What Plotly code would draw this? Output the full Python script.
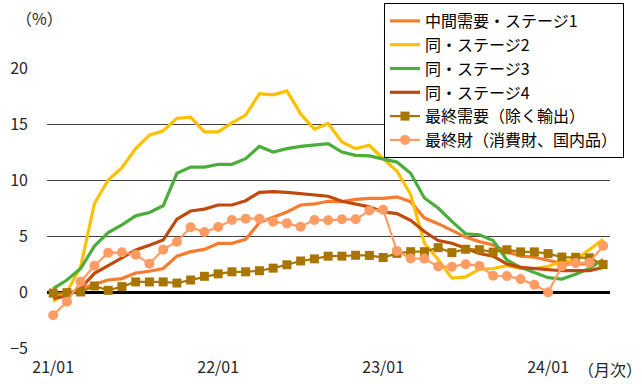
import plotly.graph_objects as go

months = list(range(41))  # 21/01 .. 24/05
tick_pos = [0, 12, 24, 36]
tick_text = ["21/01", "22/01", "23/01", "24/01"]

stage1 = [-0.4, -0.2, 0.3, 0.7, 1.07, 1.2, 1.7, 1.85, 2.1, 3.2, 3.6,
          3.8, 4.35, 4.35, 4.7, 6.2, 6.65, 7.15, 7.77, 7.86, 8.1,
          8.07, 8.27, 8.36, 8.36, 8.5, 8.07, 6.6, 6.1, 5.5, 4.9,
          4.5, 4.2, 3.6, 3.2, 3.1, 2.8, 2.56, 2.5, 2.5, 2.7]
stage2 = [-0.85, 0.0, 2.26, 7.9, 10.0, 11.1, 12.8, 14.0, 14.4, 15.5, 15.6,
          14.3, 14.3, 15.1, 15.8, 17.7, 17.6, 17.95, 15.9, 14.55, 15.05,
          13.4, 12.8, 13.1, 11.9, 10.8, 8.7, 4.35, 2.9, 1.24, 1.35,
          2.05, 2.1, 2.35, 2.1, 2.1, 2.3, 2.7, 2.86, 3.75, 4.7]
stage3 = [0.3, 1.07, 2.1, 4.1, 5.3, 6.0, 6.8, 7.1, 7.7, 10.6, 11.15,
          11.15, 11.4, 11.4, 11.9, 13.0, 12.5, 12.8, 13.0, 13.1, 13.25,
          12.5, 12.2, 12.15, 11.85, 11.6, 10.6, 8.4, 7.5, 6.3, 5.2,
          5.1, 4.6, 2.86, 2.2, 1.73, 1.28, 1.16, 1.58, 2.1, 2.9]
stage4 = [-0.57, -0.36, 0.33, 1.67, 2.35, 3.07, 3.75, 4.17, 4.64, 6.5, 7.23,
          7.4, 7.77, 7.77, 8.15, 8.9, 8.96, 8.9, 8.8, 8.7, 8.55,
          8.1, 7.85, 7.6, 7.15, 7.0, 6.4, 5.4, 4.6, 4.35, 3.9,
          3.45, 3.2, 2.5, 2.2, 2.1, 2.0, 1.9, 1.9, 1.9, 2.2]
final_demand = [-0.1, -0.06, 0.0, 0.54, 0.15, 0.48, 0.9, 0.9, 0.9, 0.8, 1.07,
                1.4, 1.62, 1.8, 1.8, 1.9, 2.13, 2.43, 2.77, 2.96, 3.2,
                3.2, 3.28, 3.27, 3.08, 3.45, 3.6, 3.6, 3.96, 3.52, 3.82,
                3.78, 3.56, 3.77, 3.58, 3.58, 3.43, 3.12, 3.1, 3.05, 2.45]
final_goods = [-2.08, -0.86, 0.92, 2.35, 3.5, 3.54, 3.33, 2.53, 3.78, 4.49, 5.78,
               5.35, 5.8, 6.43, 6.55, 6.55, 6.28, 6.13, 5.83, 6.43, 6.4,
               6.49, 6.49, 7.28, 7.35, 3.67, 3.0, 2.98, 2.27, 2.26, 2.48,
               2.33, 1.45, 1.43, 1.15, 0.64, -0.03, 2.3, 2.58, 2.62, 4.12]

names = ["中間需要・ステージ1", "同・ステージ2", "同・ステージ3", "同・ステージ4",
         "最終需要（除く輸出）", "最終財（消費財、国内品）"]
colors = ["#F97B2E", "#FFC000", "#4BAE3B", "#BF4A0C", "#A87600", "#FF9C64"]

fig = go.Figure()
for name, data, col in zip(names[:4], [stage1, stage2, stage3, stage4], colors[:4]):
    fig.add_trace(go.Scatter(x=months, y=data, name=name, mode="lines",
                             line=dict(color=col, width=3.2)))
fig.add_trace(go.Scatter(x=months, y=final_demand, name=names[4], mode="lines+markers",
                         line=dict(color=colors[4], width=2.2),
                         marker=dict(symbol="square", size=9, color=colors[4])))
fig.add_trace(go.Scatter(x=months, y=final_goods, name=names[5], mode="lines+markers",
                         line=dict(color=colors[5], width=2.2),
                         marker=dict(symbol="circle", size=10, color=colors[5])))

W, H = 642, 384
ML, MR, MT, MB = 47, 32, 68, 36
PW, PH = W - ML - MR, H - MT - MB


def px_x(px):
    return (px - ML) / PW


def px_y(py):
    return (H - MB - py) / PH


font_family = "Noto Sans CJK JP"
fig.update_layout(
    width=W, height=H,
    margin=dict(l=ML, r=MR, t=MT, b=MB, autoexpand=False),
    plot_bgcolor="white", paper_bgcolor="white",
    font=dict(family=font_family, size=16, color="#262626"),
    showlegend=True,
    legend=dict(
        x=px_x(384), y=px_y(3), xanchor="left", yanchor="top",
        bordercolor="#000000", borderwidth=1, bgcolor="white",
        font=dict(family=font_family, size=16, color="#000000"),
        tracegroupgap=0,
    ),
    xaxis=dict(
        range=[-0.45, 40.5], tickmode="array", tickvals=tick_pos, ticktext=tick_text,
        showgrid=False, zeroline=False, showline=False, ticks="",
        ticklabelstandoff=8, tickfont=dict(size=16),
    ),
    yaxis=dict(
        range=[-5, 20], tickmode="array", tickvals=[-5, 0, 5, 10, 15, 20],
        showgrid=True, gridcolor="#404040", gridwidth=1.3,
        zeroline=True, zerolinecolor="#000000", zerolinewidth=2.5,
        showline=False, ticks="", ticklabelstandoff=18, tickfont=dict(size=16),
    ),
)
fig.add_annotation(xref="paper", yref="paper", x=px_x(14), y=px_y(18),
                   text="（%）", showarrow=False, xanchor="left", yanchor="middle",
                   font=dict(size=16))
fig.add_annotation(xref="paper", yref="paper", x=px_x(576), y=px_y(369),
                   text="（月次）", showarrow=False, xanchor="left", yanchor="middle",
                   font=dict(size=16))
fig.write_html("out.html")
